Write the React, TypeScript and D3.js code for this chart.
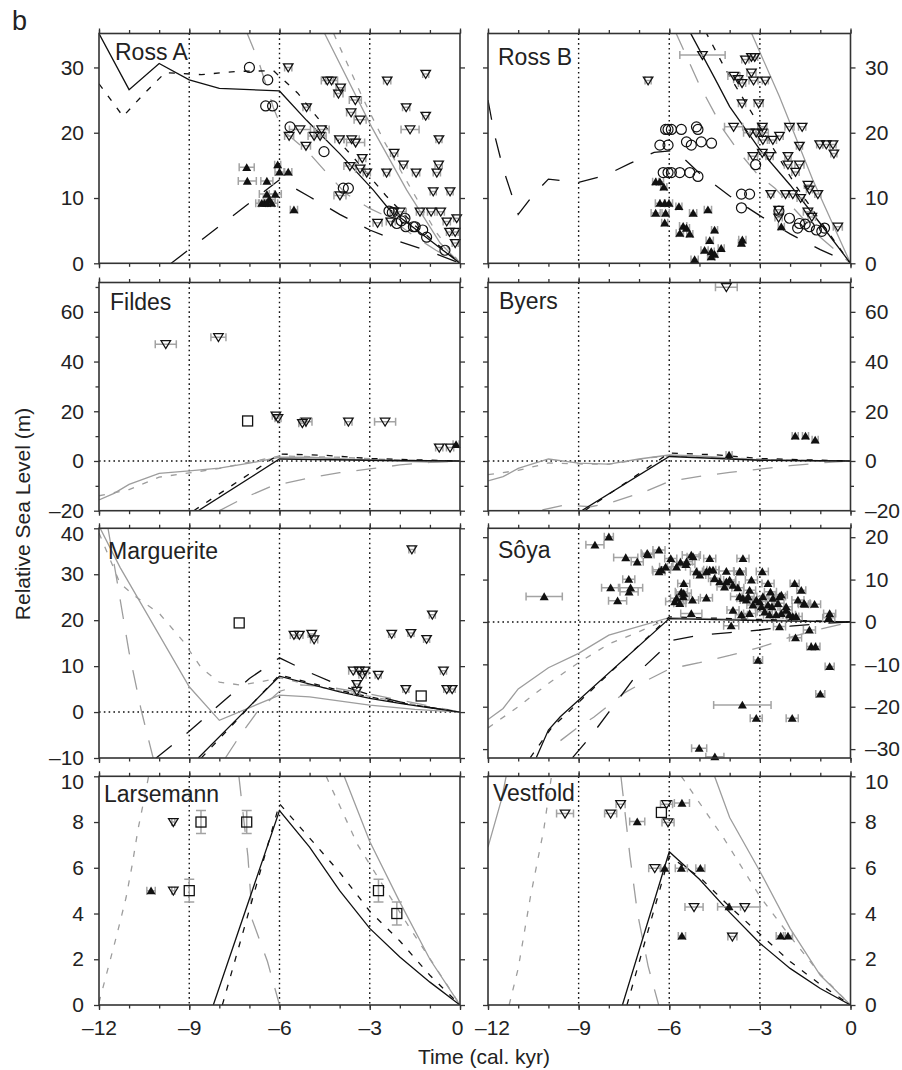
import React, { useEffect, useRef } from 'react';
import * as d3 from 'd3';

// [time (kyr), rsl (m), error]
const rossADown = [
  [-5.71, 30.0, 0.12], [-4.41, 28.0, 0.2], [-4.27, 28.0, 0.2], [-3.97, 26.9, 0.15], [-4.04, 26.0, 0.15],
  [-3.48, 25.0, 0.2], [-5.1, 23.9, 0.12], [-3.62, 23.1, 0.15], [-3.32, 22.0, 0.2], [-5.32, 20.5, 0.35],
  [-4.6, 20.5, 0.25], [-5.68, 19.5, 0.15], [-4.85, 19.5, 0.2], [-4.65, 19.5, 0.2], [-4.01, 19.0, 0.15],
  [-3.6, 19.0, 0.25], [-3.47, 18.5, 0.3], [-5.12, 18.0, 0.15], [-3.25, 16.1, 0.12], [-3.66, 14.9, 0.2],
  [-3.32, 14.5, 0.15], [-3.1, 13.9, 0.12], [-2.44, 13.9, 0.1], [-2.19, 16.9, 0.12], [-1.88, 15.1, 0.12],
  [-1.46, 13.9, 0.12], [-0.77, 13.9, 0.12], [-0.71, 15.1, 0.12], [-3.99, 10.4, 0.2], [-0.89, 11.0, 0.1],
  [-0.33, 11.0, 0.1], [-2.42, 28.0, 0.12], [-1.14, 29.0, 0.1], [-1.79, 23.9, 0.12], [-1.14, 22.6, 0.1],
  [-1.66, 20.5, 0.3], [-0.7, 19.0, 0.1], [-2.74, 6.2, 0.15], [-1.99, 7.9, 0.2], [-1.33, 7.9, 0.12],
  [-0.96, 7.9, 0.12], [-0.64, 7.9, 0.12], [-0.11, 6.9, 0.1], [-0.44, 6.4, 0.12], [-0.35, 4.8, 0.1],
  [-0.16, 4.8, 0.1], [-0.16, 3.1, 0.1], [-2.3, 6.4, 0.15], [-2.2, 7.9, 0.12],
];
const rossAUp = [
  [-7.09, 14.7, 0.25], [-7.07, 12.6, 0.3], [-6.42, 12.6, 0.2], [-6.42, 10.6, 0.25], [-6.14, 10.6, 0.2],
  [-6.59, 9.2, 0.2], [-6.5, 9.2, 0.2], [-6.42, 9.2, 0.25], [-6.26, 9.2, 0.2], [-6.34, 9.8, 0.2],
  [-6.06, 15.1, 0.1], [-6.0, 14.0, 0.15], [-5.71, 14.0, 0.12], [-5.52, 8.2, 0.12],
];
const rossACircles = [
  [-7.0, 30], [-6.39, 28.1], [-6.46, 24.1], [-6.23, 24.1], [-5.65, 20.9], [-4.52, 17.1], [-3.88, 11.5],
  [-3.71, 11.5], [-2.36, 8.0], [-2.25, 7.8], [-2.1, 6.1], [-1.83, 6.9], [-1.8, 5.6], [-1.55, 5.6],
  [-1.24, 5.1], [-1.11, 4.0], [-0.5, 2.0], [-1.49, 5.6], [-1.95, 6.5],
];
const rossABlackSolid = [[-12, 35.2], [-11, 26.6], [-10, 30.6], [-9, 28.1], [-8, 26.8], [-6, 26.4], [-5.1, 21.9], [-4, 16.8], [-2.88, 11.2], [-2.38, 8.4], [-1.44, 5.1], [0, 0]];
const rossABlackDash = [[-12, 27.5], [-11.2, 22.5], [-10.5, 26], [-9.8, 29.2], [-8.6, 28.9], [-7.4, 29.4], [-6.2, 29.5], [-5.4, 26.1], [-4.7, 22.1], [-3.5, 16], [-2.45, 10.3], [-1.5, 5.8], [0, 0]];
const rossABlackLong = [[-9.6, 0], [-6, 12.8], [-5, 10.2], [-4, 7.5], [-3, 5.1], [-2, 3.3], [-1, 1.8], [0, 0]];
const rossAGraySolid = [[-4.5, 35.2], [-2.94, 20.9], [-1.77, 11.2], [-0.66, 3.1], [0, 0]];
const rossAGrayDash = [[-4.2, 35.2], [-3.2, 25], [-2.5, 18.5], [-1.7, 12], [-0.8, 4.8], [0, 0]];
const rossAGrayLong = [[-7.1, 35.5], [-6.7, 31], [-6.2, 23.8], [-5.9, 20.4], [-5.1, 17.3], [-4.4, 13.7], [-3.8, 10.7], [-3.0, 8.4], [-2.4, 7.1], [-1.5, 4.1], [-0.8, 2.0], [0, 0]];

const rossBDown = [
  [-6.7, 28.0, 0.1], [-4.9, 31.9, 0.75], [-3.48, 31.2, 0.12], [-3.28, 31.6, 0.12], [-3.17, 31.6, 0.1],
  [-3.86, 28.7, 0.2], [-3.72, 28.2, 0.15], [-3.59, 27.6, 0.12], [-3.28, 29.2, 0.15], [-3.21, 28.0, 0.15],
  [-2.82, 28.0, 0.1], [-3.59, 24.5, 0.12], [-3.04, 24.5, 0.15], [-3.87, 20.9, 0.3], [-3.34, 20.0, 0.2],
  [-3.12, 20.0, 0.2], [-2.92, 20.9, 0.15], [-2.92, 20.0, 0.2], [-2.9, 18.9, 0.15], [-2.57, 18.9, 0.12],
  [-2.35, 19.5, 0.12], [-2.02, 20.9, 0.15], [-1.6, 20.9, 0.12], [-1.69, 18.0, 0.1], [-3.23, 16.4, 0.15],
  [-2.92, 16.9, 0.15], [-2.68, 16.4, 0.12], [-2.07, 16.4, 0.1], [-2.07, 15.1, 0.12], [-1.69, 15.1, 0.15],
  [-1.82, 14.0, 0.12], [-1.41, 12.0, 0.12], [-1.36, 11.3, 0.1], [-2.64, 10.6, 0.1], [-2.15, 10.6, 0.12],
  [-1.91, 10.6, 0.12], [-1.65, 10.0, 0.12], [-1.08, 10.6, 0.1], [-1.02, 18.2, 0.1], [-0.8, 18.2, 0.12],
  [-0.58, 18.2, 0.1], [-0.55, 16.8, 0.1], [-2.38, 8.2, 0.12], [-2.38, 7.0, 0.12], [-1.41, 7.9, 0.15],
  [-1.28, 7.1, 0.12], [-0.42, 5.6, 0.15],
];
const rossBUp = [
  [-6.45, 12.5, 0.1], [-6.31, 12.5, 0.12], [-6.18, 11.7, 0.1], [-6.31, 9.2, 0.15], [-6.15, 9.2, 0.15],
  [-6.01, 9.2, 0.12], [-6.45, 7.7, 0.15], [-6.12, 7.7, 0.12], [-5.68, 8.7, 0.1], [-5.21, 7.7, 0.12],
  [-4.72, 8.2, 0.12], [-6.15, 6.2, 0.1], [-5.54, 5.7, 0.12], [-5.43, 5.4, 0.1], [-5.65, 4.6, 0.12],
  [-5.32, 4.5, 0.1], [-4.5, 5.1, 0.1], [-4.66, 3.5, 0.12], [-3.58, 3.6, 0.12], [-3.61, 3.1, 0.1],
  [-5.16, 0.6, 0.12], [-4.83, 2.0, 0.12], [-4.61, 1.8, 0.1], [-4.5, 1.4, 0.1], [-4.28, 2.3, 0.1],
  [-4.61, 1.0, 0.12], [-2.29, 5.6, 0.1],
];
const rossBCircles = [
  [-6.12, 20.5], [-6.04, 20.5], [-5.93, 20.5], [-5.6, 20.5], [-5.1, 20.9], [-5.05, 20.5], [-6.31, 18.1],
  [-6.04, 18.1], [-5.43, 18.6], [-5.27, 18.1], [-4.94, 18.6], [-4.6, 18.4], [-6.2, 13.9], [-6.04, 13.9],
  [-5.93, 13.9], [-5.65, 13.9], [-5.32, 13.9], [-5.05, 13.3], [-3.14, 15.1], [-3.61, 10.6], [-3.34, 10.6],
  [-3.61, 8.5], [-2.37, 8.0], [-2.02, 6.9], [-1.75, 5.4], [-1.69, 6.1], [-1.5, 6.0], [-1.36, 5.6],
  [-1.13, 5.1], [-0.95, 4.9], [-0.86, 5.4],
];
const rossBBlackSolid = [[-5.3, 35.3], [-4.5, 28.4], [-4, 24], [-3, 17.4], [-2, 12], [-1, 6.1], [0, 0]];
const rossBBlackDash = [[-4.8, 35.5], [-4.15, 29.8], [-3, 21], [-1.8, 11.8], [-0.5, 3.2], [0, 0]];
const rossBBlackLong = [[-12, 25], [-11.8, 20], [-11.5, 14.5], [-11, 7.5], [-10.5, 10.5], [-10, 12.9], [-9, 12.4], [-8.1, 13.5], [-7.3, 15.3], [-6.5, 17], [-5.8, 17.3], [-5, 13.8], [-4, 10.3], [-3, 7.3], [-2, 4.5], [-1, 2.1], [0, 0]];
const rossBGraySolid = [[-3.3, 35.5], [-2.35, 25.5], [-1.25, 12.8], [0, 0]];
const rossBGrayLong = [[-5.8, 35.5], [-5, 27.3], [-4.2, 20.4], [-3.7, 17.1], [-3.06, 13.5], [-2.5, 11.5], [-2, 9], [-1, 4], [0, 0]];

const fildesDown = [
  [-9.78, 47.0, 0.35], [-8.03, 49.8, 0.25], [-6.12, 18.2, 0.12], [-6.05, 17.2, 0.1], [-5.24, 15.2, 0.12],
  [-5.12, 15.8, 0.2], [-3.71, 15.8, 0.12], [-2.49, 15.8, 0.35], [-0.69, 5.4, 0.12], [-0.33, 5.4, 0.12],
];
const fildesUp = [[-0.13, 6.7, 0.1]];
const fildesSquares = [[-7.06, 16.1, 0]];
const fildesBlackSolid = [[-8.7, -20], [-6, 0.8], [-3, 0.3], [0, 0]];
const fildesBlackDash = [[-8.85, -20], [-6, 2.8], [-4.5, 2.3], [-3, 1], [0, 0]];
const fildesGraySolid = [[-12, -15.7], [-11.5, -13], [-11, -9.4], [-10, -5], [-9, -4], [-8, -2.9], [-7, -0.9], [-6, 1.5], [-5, 1.5], [-3, 0.3], [-1, -0.4], [0, 0]];
const fildesGrayDash = [[-12, -14], [-11, -11.5], [-10, -6.5], [-9, -4.8], [-8, -3], [-7, -0.5], [-6, 2], [-4, 1.5], [-2, 0.3], [0, 0]];
const fildesGrayLong = [[-8, -20], [-7.2, -15], [-6.3, -10.3], [-5, -6.8], [-4, -4.7], [-3, -3.2], [-2, -1.6], [-1, -0.6], [0, 0]];

const byersDown = [[-4.11, 69.9, 0.36]];
const byersUp = [[-1.83, 10.1, 0.1], [-1.49, 10.1, 0.1], [-1.17, 8.5, 0.1], [-4.02, 2.4, 0.1]];
const byersBlackSolid = [[-8.9, -20], [-6, 1.8], [-3, 0.3], [0, 0]];
const byersBlackDash = [[-8.8, -20], [-6, 3.2], [-4.5, 2.5], [-3, 1], [0, 0]];
const byersGraySolid = [[-12, -8], [-11.5, -6.3], [-11, -3], [-10, 0.8], [-9, -0.9], [-8, -1.3], [-7, 0.8], [-6, 2.4], [-5, 2], [-3, 0.4], [-1, 0], [0, 0]];
const byersGrayDash = [[-12, -5.5], [-11, -3.8], [-10, -0.8], [-9, -1.2], [-8, -1.3], [-6.5, 1.5], [-6, 2], [-4, 1.2], [-2, 0.3], [0, 0]];
const byersGrayLong = [[-10.2, -19.7], [-9.45, -17.7], [-8.6, -18.4], [-8, -17], [-6.8, -12.3], [-6, -8.2], [-5, -6.2], [-4, -4.6], [-3, -3.3], [-2, -1.9], [-1, -0.8], [0, 0]];

const margueriteDown = [
  [-1.6, 35.4, 0.1], [-0.92, 21.2, 0.1], [-5.52, 16.8, 0.12], [-5.34, 16.8, 0.12], [-4.93, 17.0, 0.12],
  [-4.85, 15.8, 0.12], [-2.27, 17.0, 0.1], [-1.63, 17.2, 0.1], [-1.11, 15.9, 0.1], [-3.55, 9.0, 0.15],
  [-3.35, 9.0, 0.15], [-3.16, 9.0, 0.12], [-3.24, 8.1, 0.12], [-2.72, 8.1, 0.1], [-3.43, 6.1, 0.1],
  [-3.43, 4.6, 0.1], [-1.8, 5.0, 0.1], [-0.55, 9.0, 0.1], [-0.44, 5.0, 0.1], [-0.26, 5.0, 0.1],
];
const margueriteSquares = [[-7.34, 19.4, 0], [-1.29, 3.5, 0]];
const margueriteBlackSolid = [[-8.7, -10], [-6, 7.8], [-4, 4.4], [-3, 3.0], [-2, 1.9], [-1, 0.9], [0, 0]];
const margueriteBlackDash = [[-8.6, -10], [-6, 8.1], [-4, 4.7], [-3, 3.3], [-2, 2.0], [-1, 1.0], [0, 0]];
const margueriteBlackLong = [[-10.1, -10], [-9, -4.2], [-8, 1.6], [-7, 7.3], [-6, 11.8], [-5, 8.6], [-4, 5.8], [-3, 3.8], [-2, 2.2], [-1, 1], [0, 0]];
const margueriteGraySolid = [[-12, 40.5], [-11.3, 31.5], [-9, 5.5], [-8, -1.8], [-6, 3.7], [-5, 3.3], [-3, 1.5], [-1.5, 0.6], [0, 0]];
const margueriteGrayDash = [[-12, 39], [-11.3, 28], [-10.8, 25.2], [-10, 21.5], [-9.2, 15.4], [-8.6, 9.6], [-8, 6.5], [-7.3, 5.9], [-6.6, 6.6], [-6, 7.5], [-5, 5.9], [-4, 4.6], [-3, 3.4], [-2, 2.2], [-1, 1.1], [0, 0]];
const margueriteGrayLongA = [[-11.7, 40], [-11.4, 28.5], [-11.0, 13], [-10.6, 0.5], [-10.2, -10]];
const margueriteGrayLongB = [[-7.8, -10], [-7.3, -5], [-6.7, 0.4], [-6, 4.5], [-5.3, 5.9], [-4.4, 5.5], [-3, 3.9], [-2, 2.6], [-1, 1.3], [0, 0]];

const soyaUp = [
  [-10.14, 6.0, 0.6], [-8.0, 20.1, 0.15], [-8.46, 18.2, 0.3], [-7.44, 15.2, 0.4], [-7.06, 14.2, 0.2],
  [-6.73, 16.2, 0.2], [-6.34, 17.0, 0.2], [-6.26, 12.3, 0.3], [-6.12, 13.0, 0.2], [-6.34, 11.9, 0.2],
  [-7.94, 8.1, 0.3], [-7.34, 10.1, 0.2], [-7.28, 8.1, 0.4], [-7.33, 7.1, 0.3], [-7.71, 5.0, 0.3],
  [-5.95, 15.0, 0.2], [-5.82, 4.8, 0.3], [-5.65, 4.4, 0.2], [-5.52, 6.8, 0.25], [-5.54, 6.0, 0.2],
  [-5.52, 9.1, 0.2], [-5.23, 5.2, 0.2], [-5.76, 13.0, 0.3], [-5.63, 14.1, 0.25], [-5.43, 14.2, 0.2],
  [-5.27, 15.8, 0.3], [-5.21, 15.4, 0.2], [-5.1, 11.9, 0.2], [-4.99, 11.1, 0.2], [-4.77, 11.9, 0.3],
  [-4.66, 12.3, 0.2], [-4.55, 12.3, 0.2], [-4.66, 15.0, 0.2], [-4.5, 10.3, 0.2], [-4.33, 9.5, 0.3],
  [-4.11, 9.5, 0.3], [-4.0, 9.9, 0.2], [-4.17, 8.3, 0.25], [-3.89, 8.7, 0.2], [-4.11, 12.0, 0.25],
  [-3.67, 12.0, 0.2], [-3.56, 15.0, 0.2], [-4.77, 5.7, 0.2], [-3.73, 8.1, 0.2], [-3.67, 6.0, 0.3],
  [-3.56, 5.6, 0.2], [-3.39, 6.0, 0.2], [-3.45, 5.2, 0.2], [-3.28, 9.9, 0.2], [-3.34, 7.5, 0.2],
  [-3.89, 2.8, 0.2], [-3.61, 1.7, 0.2], [-3.34, 2.0, 0.2], [-3.23, 4.0, 0.2], [-3.12, 5.2, 0.2],
  [-3.01, 4.8, 0.2], [-2.95, 3.6, 0.2], [-2.9, 6.0, 0.2], [-2.84, 2.4, 0.25], [-2.73, 4.0, 0.2],
  [-2.92, 11.9, 0.2], [-2.73, 9.1, 0.2], [-2.65, 7.1, 0.2], [-2.57, 5.6, 0.2], [-2.35, 6.0, 0.2],
  [-2.29, 6.4, 0.2], [-2.68, 1.7, 0.2], [-2.46, 1.7, 0.2], [-2.29, 2.0, 0.2], [-2.13, 2.8, 0.2],
  [-2.02, 1.7, 0.2], [-1.91, 1.3, 0.2], [-1.8, 1.3, 0.2], [-2.6, 3.6, 0.2], [-2.4, 4.4, 0.2],
  [-2.13, 3.6, 0.2], [-1.85, 9.1, 0.15], [-1.63, 7.5, 0.15], [-1.74, 5.2, 0.2], [-1.52, 4.2, 0.2],
  [-1.19, 4.2, 0.2], [-2.35, -1.1, 0.2], [-3.95, -0.9, 0.25], [-1.36, -1.9, 0.2], [-1.82, -3.7, 0.2],
  [-1.3, -5.8, 0.15], [-1.16, -5.8, 0.15], [-3.06, -9.0, 0.15], [-0.69, -10.5, 0.15], [-1.0, -17.0, 0.15],
  [-3.58, -19.6, 0.95], [-3.12, -22.7, 0.2], [-1.93, -22.7, 0.2], [-5.01, -29.8, 0.25], [-4.49, -31.8, 0.3],
  [-0.69, 2.0, 0.2], [-0.72, 1.0, 0.2], [-5.27, 2.0, 0.35], [-6.7, 15.9, 0.2], [-5.6, 7.1, 0.2],
  [-5.76, 5.6, 0.2], [-5.45, 13.6, 0.3], [-3.65, 11.8, 0.2], [-1.54, 4.4, 0.2],
];
const soyaBlackSolid = [[-10.4, -32], [-10, -25.5], [-9.6, -22.3], [-6, 0.8], [-3, 0.3], [0, 0]];
const soyaBlackDash = [[-10.6, -32], [-9.9, -25], [-6, 1.2], [-3, 0.6], [0, 0]];
const soyaBlackLong = [[-9.2, -32], [-8.6, -27], [-8, -21.3], [-7, -11.7], [-6.3, -7], [-6, -4.5], [-5, -3.1], [-4, -2.5], [-3, -1.9], [-2, -1], [-1, -0.4], [0, 0]];
const soyaGraySolid = [[-12, -23], [-11.5, -20.4], [-11, -15.8], [-10, -10.8], [-9, -7.4], [-8, -3.1], [-6, 1.0], [-3, 0.5], [0, 0]];
const soyaGrayDash = [[-12, -25], [-11, -20], [-10, -14.5], [-9, -9.6], [-8, -5.2], [-7, -2.3], [-6, 0.9], [-3, 0.3], [0, 0]];
const soyaGrayLong = [[-9.6, -28], [-9, -24.7], [-8.5, -22.5], [-7.5, -16.8], [-6.8, -14], [-6, -11.1], [-5, -9.6], [-4, -7.9], [-3, -6], [-2, -3.6], [-1, -1.7], [0, 0]];

const larsemannDown = [[-9.53, 8.0, 0.05], [-9.53, 5.0, 0.05]];
const larsemannUp = [[-10.27, 5.0, 0.14]];
// squares carry a vertical error here
const larsemannSquares = [[-8.61, 8.0, 0.5], [-7.09, 8.0, 0.5], [-9.0, 5.0, 0.5], [-2.71, 5.0, 0.5], [-2.1, 4.0, 0.5]];
const larsemannBlackSolid = [[-8.2, 0], [-6, 8.5], [-5, 6.9], [-4, 5.0], [-3, 3.35], [-2, 2.1], [-1, 1.0], [0, 0]];
const larsemannBlackDash = [[-7.9, 0], [-6, 8.8], [-5, 7.3], [-4, 5.8], [-3, 4.1], [-2, 2.8], [-1, 1.3], [0, 0]];
const larsemannGraySolid = [[-3.85, 10], [-3, 7.15], [-2, 4.5], [-1, 2.0], [0, 0]];
const larsemannGrayDashA = [[-4.45, 10], [-3.4, 7], [-2.5, 5.1], [-1.66, 3.35], [-0.44, 0.9], [0, 0]];
const larsemannGrayDashB = [[-12, 0.1], [-11.7, 1.6], [-11.4, 3.1], [-11.1, 4.7], [-10.9, 6.1], [-10.7, 7.7], [-10.5, 9.0], [-10.35, 10]];
const larsemannGrayLong = [[-7.35, 10], [-7.05, 6.5], [-6.9, 3.7], [-6.4, 1.9], [-6, 0]];

const vestfoldDown = [
  [-9.45, 8.37, 0.28], [-7.94, 8.37, 0.2], [-7.61, 8.78, 0.15], [-6.09, 8.78, 0.2], [-6.04, 7.98, 0.2],
  [-6.48, 5.98, 0.2], [-5.18, 4.28, 0.3], [-3.5, 4.28, 0.5], [-3.91, 2.99, 0.15],
];
const vestfoldUp = [
  [-5.58, 8.83, 0.25], [-7.06, 8.02, 0.25], [-6.15, 5.98, 0.15], [-5.6, 5.98, 0.2], [-4.97, 5.98, 0.15],
  [-4.02, 4.3, 0.38], [-5.58, 3.02, 0.12], [-2.31, 3.02, 0.15], [-2.07, 3.02, 0.15],
];
const vestfoldSquares = [[-6.26, 8.42, 0]];
const vestfoldBlackSolid = [[-7.55, 0], [-6, 6.7], [-5, 5.5], [-4, 4.05], [-3, 2.7], [-2, 1.6], [-1, 0.72], [0, 0]];
const vestfoldBlackDash = [[-7.4, 0], [-6, 6.5], [-5, 5.6], [-4, 4.3], [-3, 3.1], [-2, 1.9], [-1, 0.9], [0, 0]];
const vestfoldGraySolidA = [[-4.5, 10], [-4, 8.2], [-3, 5.85], [-2, 3.35], [-1, 1.3], [0, 0]];
const vestfoldGraySolidB = [[-12, 6.9], [-11.55, 9.0], [-11.4, 10]];
const vestfoldGrayDashA = [[-5.6, 10], [-4.2, 7.3], [-3, 4.75], [-2, 3.0], [-1, 1.35], [0, 0]];
const vestfoldGrayDashB = [[-11.3, 0], [-11, 1.6], [-10.6, 4.7], [-10.15, 7.7], [-9.9, 10]];
const vestfoldGrayLong = [[-7.6, 10], [-7.3, 6.5], [-7.05, 4], [-6.7, 1.7], [-6.35, 0]];

const xMajor = [-12, -9, -6, -3, 0];
const xMinor = d3.range(-12, 1, 1);
const guideTimes = [-9, -6, -3];

const lineStyles = {
  bs: { stroke: '#111', dash: null },
  bd: { stroke: '#111', dash: '6,9' },
  bl: { stroke: '#111', dash: '20,19' },
  gs: { stroke: '#9d9d9d', dash: null },
  gd: { stroke: '#9d9d9d', dash: '6,9' },
  gl: { stroke: '#9d9d9d', dash: '20,16' },
};

const cols = [
  { x0: 99, x1: 460 },
  { x0: 488, x1: 850.5 },
];
const rows = [
  { y0: 33.5, y1: 263.3 },
  { y0: 282.5, y1: 510.7 },
  { y0: 528.3, y1: 758 },
  { y0: 776.3, y1: 1005 },
];

const panels = [
  {
    name: 'Ross A', col: 0, row: 0, domain: [0, 35.2], ticks: [0, 10, 20, 30], minor: [], zero: false, tx: 16, ty: 26,
    lines: [['gl', rossAGrayLong], ['gd', rossAGrayDash], ['gs', rossAGraySolid], ['bl', rossABlackLong], ['bd', rossABlackDash], ['bs', rossABlackSolid]],
    down: rossADown, up: rossAUp, circles: rossACircles, squares: [],
  },
  {
    name: 'Ross B', col: 1, row: 0, domain: [0, 35.2], ticks: [0, 10, 20, 30], minor: [], zero: false, tx: 10, ty: 31,
    lines: [['gl', rossBGrayLong], ['gs', rossBGraySolid], ['bl', rossBBlackLong], ['bd', rossBBlackDash], ['bs', rossBBlackSolid]],
    down: rossBDown, up: rossBUp, circles: rossBCircles, squares: [],
  },
  {
    name: 'Fildes', col: 0, row: 1, domain: [-20, 71.8], ticks: [-20, 0, 20, 40, 60], minor: [-10, 10, 30, 50, 70], zero: true, tx: 11, ty: 27.5,
    lines: [['gl', fildesGrayLong], ['gd', fildesGrayDash], ['gs', fildesGraySolid], ['bd', fildesBlackDash], ['bs', fildesBlackSolid]],
    down: fildesDown, up: fildesUp, circles: [], squares: fildesSquares,
  },
  {
    name: 'Byers', col: 1, row: 1, domain: [-20, 71.8], ticks: [-20, 0, 20, 40, 60], minor: [-10, 10, 30, 50, 70], zero: true, tx: 11, ty: 26.5,
    lines: [['gl', byersGrayLong], ['gd', byersGrayDash], ['gs', byersGraySolid], ['bd', byersBlackDash], ['bs', byersBlackSolid]],
    down: byersDown, up: byersUp, circles: [], squares: [],
  },
  {
    name: 'Marguerite', col: 0, row: 2, domain: [-10, 40], ticks: [-10, 0, 10, 20, 30, 40], minor: [], zero: true, tx: 9, ty: 30.5,
    lines: [['gl', margueriteGrayLongA], ['gl', margueriteGrayLongB], ['gd', margueriteGrayDash], ['gs', margueriteGraySolid], ['bl', margueriteBlackLong], ['bd', margueriteBlackDash], ['bs', margueriteBlackSolid]],
    down: margueriteDown, up: [], circles: [], squares: margueriteSquares,
  },
  {
    name: 'Sôya', col: 1, row: 2, domain: [-32.1, 22.1], ticks: [-30, -20, -10, 0, 10, 20], minor: [], zero: true, tx: 10, ty: 29.5,
    lines: [['gl', soyaGrayLong], ['gd', soyaGrayDash], ['gs', soyaGraySolid], ['bl', soyaBlackLong], ['bd', soyaBlackDash], ['bs', soyaBlackSolid]],
    down: [], up: soyaUp, circles: [], squares: [],
  },
  {
    name: 'Larsemann', col: 0, row: 3, domain: [0, 10], ticks: [0, 2, 4, 6, 8, 10], minor: [], zero: false, tx: 5, ty: 26,
    lines: [['gl', larsemannGrayLong], ['gd', larsemannGrayDashA], ['gd', larsemannGrayDashB], ['gs', larsemannGraySolid], ['bd', larsemannBlackDash], ['bs', larsemannBlackSolid]],
    down: larsemannDown, up: larsemannUp, circles: [], squares: larsemannSquares,
  },
  {
    name: 'Vestfold', col: 1, row: 3, domain: [0, 10], ticks: [0, 2, 4, 6, 8, 10], minor: [], zero: false, tx: 5, ty: 25,
    lines: [['gl', vestfoldGrayLong], ['gd', vestfoldGrayDashA], ['gd', vestfoldGrayDashB], ['gs', vestfoldGraySolidA], ['gs', vestfoldGraySolidB], ['bd', vestfoldBlackDash], ['bs', vestfoldBlackSolid]],
    down: vestfoldDown, up: vestfoldUp, circles: [], squares: vestfoldSquares,
  },
];

const FONT = '"Liberation Sans", Arial, Helvetica, sans-serif';
const fmt = (d: number) => (d < 0 ? '\u2013' + Math.abs(d) : String(d));

const App = () => {
  const chart = useRef<HTMLDivElement>(null);

  useEffect(() => {
    const root = d3.select(chart.current);
    root.selectAll('*').remove();

    const svg = root
      .append('svg')
      .attr('width', 902)
      .attr('height', 1070)
      .style('position', 'absolute')
      .style('left', '0px')
      .style('top', '0px')
      .style('background', '#fff')
      .style('font-family', FONT);

    const defs = svg.append('defs');

    panels.forEach((p, i) => {
      const c = cols[p.col];
      const r = rows[p.row];
      const x = d3.scaleLinear().domain([-12, 0]).range([c.x0, c.x1]);
      const y = d3.scaleLinear().domain(p.domain).range([r.y1, r.y0]);

      defs
        .append('clipPath')
        .attr('id', `clip${i}`)
        .append('rect')
        .attr('x', c.x0)
        .attr('y', r.y0)
        .attr('width', c.x1 - c.x0)
        .attr('height', r.y1 - r.y0);

      const g = svg.append('g');
      const inner = g.append('g').attr('clip-path', `url(#clip${i})`);

      // dotted guides
      guideTimes.forEach((t) => {
        inner
          .append('line')
          .attr('x1', x(t)).attr('x2', x(t))
          .attr('y1', r.y0).attr('y2', r.y1)
          .attr('stroke', '#111')
          .attr('stroke-width', 1.4)
          .attr('stroke-dasharray', '1.6,3.2');
      });
      if (p.zero) {
        inner
          .append('line')
          .attr('x1', c.x0).attr('x2', c.x1)
          .attr('y1', y(0)).attr('y2', y(0))
          .attr('stroke', '#111')
          .attr('stroke-width', 1.4)
          .attr('stroke-dasharray', '1.6,3.2');
      }

      const line = d3
        .line<number[]>()
        .x((d) => x(d[0]))
        .y((d) => y(d[1]));

      p.lines.forEach(([key, data]: any) => {
        const st = (lineStyles as any)[key];
        inner
          .append('path')
          .attr('d', line(data))
          .attr('fill', 'none')
          .attr('stroke', st.stroke)
          .attr('stroke-width', 1.3)
          .attr('stroke-dasharray', st.dash);
      });

      // horizontal error bars
      const errColor = '#a3a3a3';
      [...p.down, ...p.up].forEach((d: number[]) => {
        const e = d[2] || 0;
        if (e <= 0) return;
        const eg = inner.append('g').attr('stroke', errColor).attr('stroke-width', 1.5);
        eg.append('line').attr('x1', x(d[0] - e)).attr('x2', x(d[0] + e)).attr('y1', y(d[1])).attr('y2', y(d[1]));
        eg.append('line').attr('x1', x(d[0] - e)).attr('x2', x(d[0] - e)).attr('y1', y(d[1]) - 4).attr('y2', y(d[1]) + 4);
        eg.append('line').attr('x1', x(d[0] + e)).attr('x2', x(d[0] + e)).attr('y1', y(d[1]) - 4).attr('y2', y(d[1]) + 4);
      });
      // vertical error bars (squares)
      p.squares.forEach((d: number[]) => {
        const e = d[2] || 0;
        if (e <= 0) return;
        const eg = inner.append('g').attr('stroke', errColor).attr('stroke-width', 1.5);
        eg.append('line').attr('x1', x(d[0])).attr('x2', x(d[0])).attr('y1', y(d[1] - e)).attr('y2', y(d[1] + e));
        eg.append('line').attr('x1', x(d[0]) - 5).attr('x2', x(d[0]) + 5).attr('y1', y(d[1] - e)).attr('y2', y(d[1] - e));
        eg.append('line').attr('x1', x(d[0]) - 5).attr('x2', x(d[0]) + 5).attr('y1', y(d[1] + e)).attr('y2', y(d[1] + e));
      });

      const marks = g.append('g');
      marks
        .selectAll('path.down')
        .data(p.down)
        .join('path')
        .attr('class', 'down')
        .attr('d', 'M-4.8,-3.5L4.8,-3.5L0,4.4Z')
        .attr('transform', (d: number[]) => `translate(${x(d[0])},${y(d[1])})`)
        .attr('fill', 'none')
        .attr('stroke', '#111')
        .attr('stroke-width', 1.25);
      marks
        .selectAll('path.up')
        .data(p.up)
        .join('path')
        .attr('class', 'up')
        .attr('d', 'M-4.5,3.6L4.5,3.6L0,-4.2Z')
        .attr('transform', (d: number[]) => `translate(${x(d[0])},${y(d[1])})`)
        .attr('fill', '#111');
      marks
        .selectAll('circle')
        .data(p.circles)
        .join('circle')
        .attr('cx', (d: number[]) => x(d[0]))
        .attr('cy', (d: number[]) => y(d[1]))
        .attr('r', 5)
        .attr('fill', 'none')
        .attr('stroke', '#111')
        .attr('stroke-width', 1.2);
      marks
        .selectAll('rect')
        .data(p.squares)
        .join('rect')
        .attr('x', (d: number[]) => x(d[0]) - 5)
        .attr('y', (d: number[]) => y(d[1]) - 5)
        .attr('width', 10)
        .attr('height', 10)
        .attr('fill', 'none')
        .attr('stroke', '#111')
        .attr('stroke-width', 1.3);

      // axes
      const axisColor = '#333';
      const styleAxis = (sel: any) => {
        sel.attr('color', axisColor);
        sel.select('.domain').remove();
        sel.selectAll('.tick line').attr('stroke-width', 1.3);
        sel.selectAll('text').attr('font-size', 21).attr('font-family', FONT).attr('fill', '#222');
      };

      const isBottom = p.row === rows.length - 1;
      const xBottom = d3.axisBottom(x).tickValues(xMajor).tickSize(5).tickPadding(10).tickFormat(isBottom ? (fmt as any) : () => '');
      const xBottomMinor = d3.axisBottom(x).tickValues(xMinor).tickSize(3.5).tickFormat(() => '');
      const xTop = d3.axisTop(x).tickValues(xMajor).tickSize(5).tickFormat(() => '');
      const xTopMinor = d3.axisTop(x).tickValues(xMinor).tickSize(3.5).tickFormat(() => '');

      const gb = g.append('g').attr('transform', `translate(0,${r.y1})`).call(xBottom);
      styleAxis(gb);
      if (isBottom) {
        gb.selectAll('.tick text').attr('dx', (d: number) => {
          if (p.col === 0 && d === 0) return -3;
          if (p.col === 1 && d === -12) return 4;
          return 0;
        });
      }
      styleAxis(g.append('g').attr('transform', `translate(0,${r.y1})`).call(xBottomMinor));
      styleAxis(g.append('g').attr('transform', `translate(0,${r.y0})`).call(xTop));
      styleAxis(g.append('g').attr('transform', `translate(0,${r.y0})`).call(xTopMinor));

      const outerAxis = p.col === 0 ? d3.axisLeft(y) : d3.axisRight(y);
      const innerAxis = p.col === 0 ? d3.axisRight(y) : d3.axisLeft(y);
      const outerX = p.col === 0 ? c.x0 : c.x1;
      const innerX = p.col === 0 ? c.x1 : c.x0;

      const go = g.append('g').attr('transform', `translate(${outerX},0)`)
        .call(outerAxis.tickValues(p.ticks).tickSize(5).tickPadding(p.col === 0 ? 10 : 9.5).tickFormat(fmt as any));
      styleAxis(go);
      // labels sitting on the panel's top edge are pushed down a little, as in the original
      go.selectAll('.tick text').attr('y', (d: number) => (y(d) - r.y0 < 3 ? 5 : 0));

      styleAxis(
        g.append('g').attr('transform', `translate(${innerX},0)`)
          .call(innerAxis.tickValues(p.ticks).tickSize(5).tickFormat(() => ''))
      );
      if (p.minor.length) {
        styleAxis(
          g.append('g').attr('transform', `translate(${outerX},0)`)
            .call((p.col === 0 ? d3.axisLeft(y) : d3.axisRight(y)).tickValues(p.minor).tickSize(3.5).tickFormat(() => ''))
        );
        styleAxis(
          g.append('g').attr('transform', `translate(${innerX},0)`)
            .call((p.col === 0 ? d3.axisRight(y) : d3.axisLeft(y)).tickValues(p.minor).tickSize(3.5).tickFormat(() => ''))
        );
      }

      // frame
      g.append('rect')
        .attr('x', c.x0)
        .attr('y', r.y0)
        .attr('width', c.x1 - c.x0)
        .attr('height', r.y1 - r.y0)
        .attr('fill', 'none')
        .attr('stroke', axisColor)
        .attr('stroke-width', 1.6);

      g.append('text')
        .attr('x', c.x0 + p.tx)
        .attr('y', r.y0 + p.ty)
        .attr('font-size', 23)
        .attr('fill', '#222')
        .text(p.name);
    });

    svg.append('text')
      .attr('x', 12)
      .attr('y', 30)
      .attr('font-size', 27)
      .attr('fill', '#222')
      .text('b');

    svg.append('text')
      .attr('x', 484)
      .attr('y', 1064)
      .attr('text-anchor', 'middle')
      .attr('font-size', 21)
      .attr('fill', '#222')
      .text('Time (cal. kyr)');

    svg.append('text')
      .attr('transform', 'translate(30,514) rotate(-90)')
      .attr('text-anchor', 'middle')
      .attr('font-size', 21)
      .attr('fill', '#222')
      .text('Relative Sea Level (m)');
  }, []);

  return <div ref={chart}></div>;
};

export default App;
